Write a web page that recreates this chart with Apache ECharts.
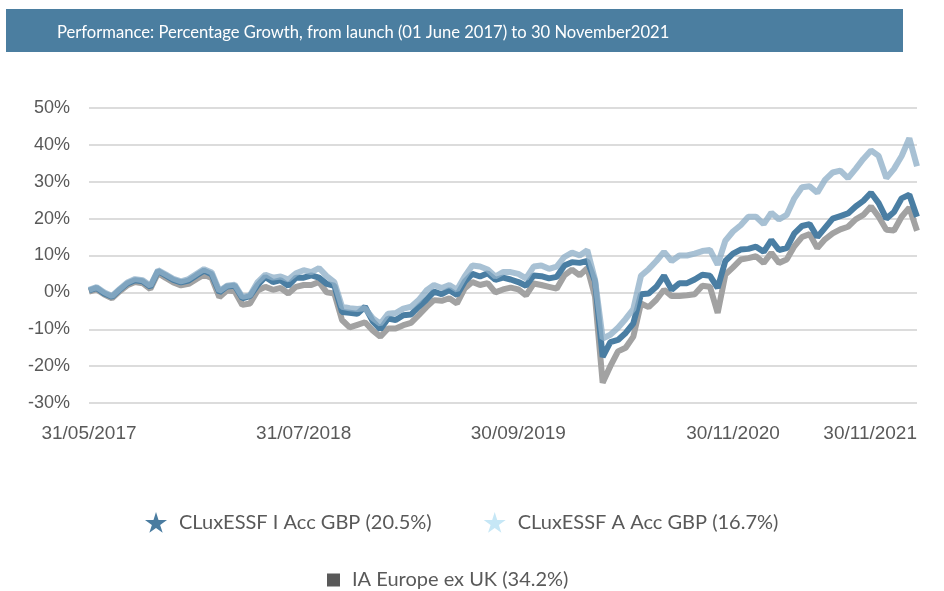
<!DOCTYPE html>
<html>
<head>
<meta charset="utf-8">
<title>Performance: Percentage Growth</title>
<script src="https://cdn.jsdelivr.net/npm/echarts@6/dist/echarts.min.js"></script>
<style>
  html, body { margin: 0; padding: 0; background: #fff; }
  #chart { width: 944px; height: 591px; }
</style>
</head>
<body>
<div id="chart"></div>
<script>
// semi-monthly points, 31/05/2017 .. 30/11/2021 (109 points)
const tickLabels = ['31/05/2017', '31/07/2018', '30/09/2019', '30/11/2020', '30/11/2021']

// dark blue line, ends 20.5%
const iAcc = [
  0.5, 1.2, -0.3, -1.2, 0.7, 2.4, 3.3, 3.0, 1.5, 5.8, 4.6, 3.4, 2.7, 3.2, 4.6, 5.9, 4.9, 0.0, 1.6, 1.8,
  -1.6, -1.0, 2.0, 4.2, 2.8, 3.3, 1.8, 4.0, 4.0, 4.6, 4.0, 2.3, 1.8, -5.3, -5.5, -5.8, -3.9, -7.8, -10.0, -7.1,
  -7.5, -6.2, -6.0, -3.9, -2.0, 0.2, -0.5, 0.6, -0.7, 2.9, 5.0, 4.3, 5.2, 3.4, 4.0, 3.5, 2.8, 1.8, 4.6, 4.4,
  3.8, 4.2, 7.3, 8.2, 8.0, 8.5, 3.0, -17.5, -13.5, -12.9, -11.0, -8.4, -0.5, -0.3, 1.5, 4.5, 0.7, 2.5, 2.5, 3.5,
  4.8, 4.5, 1.2, 8.5, 10.5, 11.6, 11.8, 12.4, 11.0, 14.2, 11.5, 12.0, 16.0, 18.0, 18.5, 15.0, 17.5, 20.0, 20.7, 21.4,
  23.3, 24.8, 27.0, 24.2, 20.0, 21.8, 25.5, 26.5, 20.5
]

// grey line, ends 16.7%
const aAcc = [
  0.2, 0.8, -0.6, -1.6, 0.3, 1.9, 2.8, 2.5, 0.9, 5.2, 3.9, 2.7, 1.9, 2.3, 3.6, 4.8, 3.9, -1.3, 0.5, 0.3,
  -3.4, -3.0, 0.5, 1.5, 0.7, 1.2, -0.3, 1.5, 2.0, 2.0, 2.8, 0.0, -0.3, -7.5, -9.5, -8.8, -8.1, -10.3, -12.0, -9.8,
  -9.8, -8.9, -8.3, -6.2, -4.0, -2.1, -2.3, -1.6, -3.0, 1.1, 2.8, 2.0, 2.5, 0.0, 0.8, 1.3, 0.8, -0.8, 2.4, 2.0,
  1.5, 1.0, 4.6, 6.2, 4.6, 6.6, -1.1, -24.5, -20.0, -16.0, -15.0, -12.0, -3.0, -4.0, -2.0, 0.7, -1.0, -1.0, -0.8, -0.5,
  1.8, 1.5, -5.6, 4.8, 6.8, 8.9, 9.3, 9.8, 8.0, 10.7, 8.0, 8.9, 12.5, 15.0, 15.8, 12.0, 14.4, 16.0, 17.1, 17.8,
  19.8, 21.0, 23.3, 20.5, 17.0, 16.8, 20.5, 23.0, 16.7
]

// light blue line, ends 34.2%
const iaEurope = [
  0.7, 1.4, 0.0, -1.0, 0.9, 2.7, 3.6, 3.3, 1.8, 6.0, 4.9, 3.7, 3.0, 3.6, 5.0, 6.3, 5.4, 0.4, 1.8, 2.1,
  -1.2, -0.8, 2.8, 4.8, 4.0, 4.3, 3.5, 5.2, 6.0, 5.5, 6.6, 4.4, 2.8, -3.9, -4.3, -4.5, -4.3, -7.0, -8.5, -5.8,
  -5.6, -4.4, -3.9, -2.1, 0.5, 2.0, 1.2, 2.0, 0.7, 4.3, 7.3, 7.0, 6.2, 4.3, 5.5, 5.5, 5.0, 3.8, 7.0, 7.3,
  6.4, 7.0, 9.6, 10.8, 10.0, 11.4, 3.5, -12.5, -11.5, -9.6, -7.2, -4.5, 4.5, 6.3, 8.5, 11.0, 8.5, 10.0, 10.0, 10.5,
  11.2, 11.5, 7.5, 14.0, 16.5, 18.2, 20.5, 20.5, 18.5, 21.6, 19.8, 21.0, 25.5, 28.5, 28.8, 27.0, 30.5, 32.5, 33.0, 31.0,
  33.5, 36.2, 38.5, 37.0, 31.0, 33.5, 37.0, 41.8, 34.2
]

const seriesNames = ['CLuxESSF I Acc GBP (20.5%)', 'CLuxESSF A Acc GBP (16.7%)', 'IA Europe ex UK (34.2%)']

function pad(n) { return n < 10 ? '0' + n : '' + n }

// category dates: 15th and month end
const dates = []
for (let m = 0; m <= 54; m++) {
  const y = 2017 + Math.floor((4 + m) / 12)
  const mo = (4 + m) % 12
  if (m > 0) dates.push('15/' + pad(mo + 1) + '/' + y)
  const last = new Date(y, mo + 1, 0).getDate()
  dates.push(pad(last) + '/' + pad(mo + 1) + '/' + y)
}

const STAR = 'path://M50,0 L61,35 L98,35 L68,57 L79,91 L50,70 L21,91 L32,57 L2,35 L39,35 Z'
const legendText = { color: '#595959', fontSize: 20, fontFamily: 'Lato', padding: [0, 0, 0, 7] }

const chart = echarts.init(document.getElementById('chart'))
chart.setOption({
  animation: false,
  backgroundColor: '#fff',
  graphic: [{
    type: 'rect', left: 6, top: 9, z: -1,
    shape: { width: 897, height: 43 },
    style: { fill: '#4b7ea0' }
  }],
  title: {
    text: 'Performance: Percentage Growth, from launch (01 June 2017) to 30 November2021',
    left: 52, top: 19,
    textStyle: { color: '#fff', fontSize: 16.6, fontWeight: 'normal', fontFamily: 'Lato' }
  },
  grid: { left: 89, right: 27, top: 108, bottom: 188, containLabel: false },
  legend: [{
    left: 140, top: 507, itemWidth: 22, itemHeight: 21, itemGap: 52,
    textStyle: legendText,
    data: [
      { name: seriesNames[0], icon: STAR, itemStyle: { color: '#4a7ca0' } },
      { name: seriesNames[1], icon: STAR, itemStyle: { color: '#c6e7f6' } }
    ]
  }, {
    left: 322, top: 565, itemWidth: 13, itemHeight: 13,
    textStyle: legendText,
    data: [{ name: seriesNames[2], icon: 'rect', itemStyle: { color: '#595959' } }]
  }],
  xAxis: {
    type: 'category',
    data: dates,
    boundaryGap: false,
    axisLine: { show: false },
    axisTick: { show: false },
    axisLabel: {
      interval: (idx, val) => tickLabels.includes(val),
      margin: 21,
      color: '#595959',
      fontSize: 19,
      fontFamily: 'Liberation Sans',
      alignMaxLabel: 'right'
    }
  },
  yAxis: {
    type: 'value',
    min: -30, max: 50, interval: 10,
    axisLine: { show: false },
    axisTick: { show: false },
    splitLine: { lineStyle: { color: '#dcdcdc', width: 2 } },
    axisLabel: {
      formatter: '{value}%',
      margin: 19,
      color: '#595959',
      fontSize: 18,
      fontFamily: 'Liberation Sans'
    }
  },
  series: [
    {
      name: seriesNames[1], type: 'line', data: aAcc, showSymbol: false,
      lineStyle: { color: '#a2a2a2', width: 6 }, itemStyle: { color: '#a2a2a2' }
    },
    {
      name: seriesNames[0], type: 'line', data: iAcc, showSymbol: false,
      lineStyle: { color: '#4a7ea3', width: 6 }, itemStyle: { color: '#4a7ea3' }
    },
    {
      name: seriesNames[2], type: 'line', data: iaEurope, showSymbol: false,
      lineStyle: { color: '#8fb0c8', width: 6, opacity: 0.78 }, itemStyle: { color: '#8fb0c8' }
    }
  ]
})
</script>
</body>
</html>
